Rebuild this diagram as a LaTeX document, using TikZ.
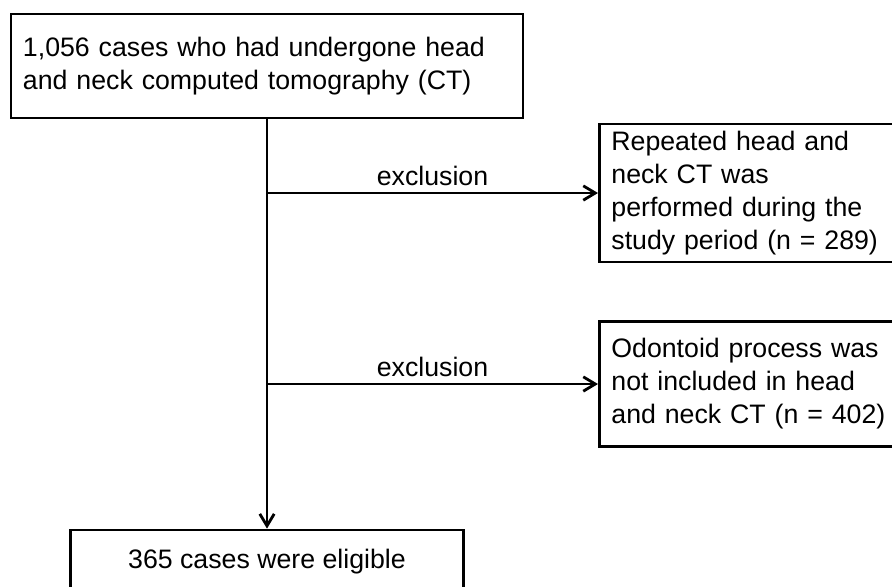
\documentclass[tikz,border=0pt]{standalone}
\usepackage{fontspec}
\setmainfont{Liberation Sans}
\usetikzlibrary{arrows.meta}

\begin{document}
\begin{tikzpicture}[
	box/.style={draw, line width=2pt, inner xsep=0.3cm, inner ysep=0pt, font=\fontsize{19}{23.5}\selectfont},
	flow/.style={line width=2pt, -{Straight Barb[length=3mm,width=3.6mm]}},
	lbl/.style={font=\fontsize{19}{23.5}\selectfont, inner sep=4pt}
]
	\useasboundingbox (0,0) rectangle (22.3,-14.65);

	\node [box, align=left, text width=12.2cm, minimum height=2.6cm] (start) at (6.675,-1.65)
		{1,056 cases who had undergone head\\and neck computed tomography (CT)};
	\node [box, align=left, text width=7.2cm, minimum height=3.45cm, anchor=west] (excl1) at (14.95,-4.825)
		{Repeated head and\\neck CT was\\performed during the\\study period (n = 289)};
	\node [box, align=left, text width=7.2cm, minimum height=3.125cm, anchor=west] (excl2) at (14.95,-9.6)
		{Odontoid process was\\not included in head\\and neck CT (n = 402)};
	\node [box, align=center, minimum width=9.825cm, minimum height=1.6cm] (elig) at (6.675,-14.05)
		{365 cases were eligible};

	% main flow and the two exclusions
	\draw [flow] (start) -- (elig);
	\coordinate (j1) at (start.south |- excl1.west);
	\coordinate (j2) at (start.south |- excl2.west);
	\draw [flow] (j1) -- node[lbl, above] {exclusion} (excl1);
	\draw [flow] (j2) -- node[lbl, above] {exclusion} (excl2);
\end{tikzpicture}
\end{document}
